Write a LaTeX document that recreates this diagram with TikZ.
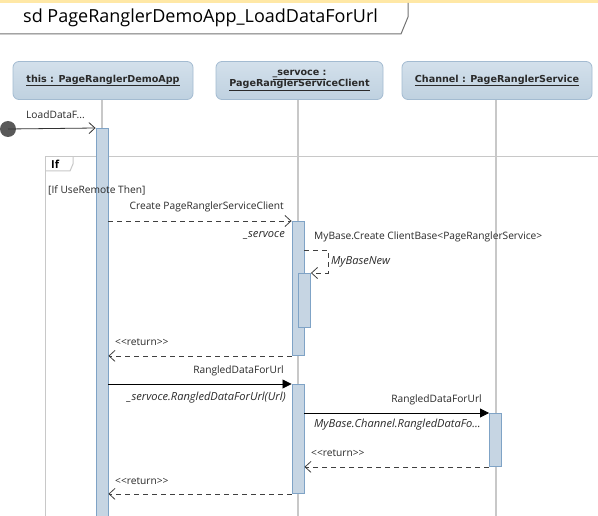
\documentclass[tikz,border=0pt]{standalone}
\usepackage{fontspec}
\setmainfont{Open Sans}
\newfontfamily\headfont{DejaVu Sans}
\usetikzlibrary{arrows.meta,calc}
\definecolor{lifec}{HTML}{C8C8C8}
\definecolor{actfill}{HTML}{C6D5E3}
\definecolor{actdraw}{HTML}{7FA3C6}
\definecolor{headtop}{HTML}{D3E0EB}
\definecolor{headbot}{HTML}{BFD1E0}
\definecolor{headdraw}{HTML}{A3BBD1}
\definecolor{txt}{HTML}{2A2A2A}
\definecolor{strip}{HTML}{FFE8A6}
\tikzset{
  head/.style={draw=headdraw, top color=headtop, bottom color=headbot, rounded corners=6pt, line width=0.8pt, minimum height=38pt, inner sep=0pt, align=center, font=\headfont\fontsize{9.6}{12}\selectfont\bfseries, text=txt},
  act/.style={draw=actdraw, fill=actfill, line width=0.9pt, minimum width=12pt, inner sep=0pt, anchor=north},
  lifeline/.style={draw=lifec, line width=1.3pt},
  msgtxt/.style={font=\fontsize{10.2}{12}\selectfont, text=txt, inner sep=0pt},
  msgit/.style={msgtxt, font=\fontsize{11.1}{12}\selectfont\itshape},
  callmsg/.style={draw=black, line width=0.8pt, -{Triangle[length=9pt,width=9pt]}},
  retmsg/.style={draw=black!75, line width=0.8pt, dash pattern=on 5pt off 4pt, -{Straight Barb[length=6pt,width=11pt]}},
  openmsg/.style={draw=black!80, line width=0.8pt, -{Straight Barb[length=6pt,width=11pt]}},
}
\begin{document}
\begin{tikzpicture}[x=1pt,y=-1pt]
\useasboundingbox (0,0) rectangle (598,516);
\fill[white] (0,0) rectangle (598,516);
% top strip and title
\fill[strip] (0,0) rectangle (598,3);
\draw[draw=black!55, line width=1pt] (0,34) -- (401,34) -- (408,17) -- (408,3);
\node[anchor=west, inner sep=0pt, font=\fontsize{18}{20}\selectfont, text=black] (title) at (23,18) {sd PageRanglerDemoApp\_LoadDataForUrl};
% headers
\node[head, minimum width=180pt] (h1) at (103,80.5) {\underline{this : PageRanglerDemoApp}};
\node[head, minimum width=167pt] (h2) at (299.5,80.5) {\underline{\_servoce :}\\[-1pt]\underline{PageRanglerServiceClient}};
\node[head, minimum width=190pt] (h3) at (497,80.5) {\underline{Channel : PageRanglerService}};
% lifelines
\coordinate (e1) at (102,516);
\coordinate (e2) at (298,516);
\coordinate (e3) at (496,516);
\draw[lifeline] (h1.south -| e1) -- (e1);
\draw[lifeline] (h2.south -| e2) -- (e2);
\draw[lifeline] (h3.south -| e3) -- (e3);
% if frame
\draw[draw=lifec, line width=1pt] (598,157) -- (45,157) -- (45,516);
\draw[draw=lifec, line width=1pt] (45,171) -- (70,171) -- (73,164) -- (73,157);
\node[anchor=west, inner sep=0pt, font=\fontsize{11}{12}\selectfont\bfseries\rmfamily] (iftxt) at (51,164) {If};
% activations
\node[act, minimum height=400pt] (a1) at (102,128) {};
\node[act, minimum height=134pt] (a2) at (298,221) {};
\node[act, minimum height=54pt] (a2b) at (304.5,273) {};
\node[act, minimum height=109pt] (a3) at (298,384) {};
\node[act, minimum height=53pt] (a4) at (495.5,413) {};
\node[msgtxt, anchor=west] (guard) at (48,190) {[If UseRemote Then]};
% start
\node[circle, fill=black!65, minimum size=16pt, inner sep=0pt] (start) at (8,129) {};
\draw[openmsg] (start.center) -- (a1.north west);
\node[msgtxt, anchor=west] (l0) at (26,115) {LoadDataF...};
% create
\draw[retmsg] (a1.east |- a2.north) -- (a2.north west);
\node[msgtxt, anchor=east] (l1) at (284,207) {Create PageRanglerServiceClient};
\node[msgit, anchor=east] (l1b) at (285,235) {\_servoce};
% self call
\coordinate (sc1) at (328,250);
\coordinate (sc2) at (328,273);
\draw[retmsg] (a2.east |- sc1) -- (sc1) -- (sc2) -- (a2b.north east);
\node[msgtxt, anchor=west] (l2) at (314,237) {MyBase.Create ClientBase<PageRanglerService>};
\node[msgit, anchor=west] (l2b) at (331,262) {MyBaseNew};
% return 1
\draw[retmsg] (a2.south west) -- (a1.east |- a2.south);
\node[msgtxt, anchor=west] (r1) at (115,342) {<{}<return>{}>};
% rangled 1
\draw[callmsg] (a1.east |- a3.north) -- (a3.north west);
\node[msgtxt, anchor=east] (l3) at (284,371) {RangledDataForUrl};
\node[msgit, anchor=east] (l3b) at (286,398) {\_servoce.RangledDataForUrl(Url)};
% rangled 2
\draw[callmsg] (a3.east |- a4.north) -- (a4.north west);
\node[msgtxt, anchor=east] (l4) at (482,400) {RangledDataForUrl};
\node[msgit, anchor=east] (l4b) at (481,425) {MyBase.Channel.RangledDataFo...};
% returns
\draw[retmsg] (a4.south west) -- (a3.east |- a4.south);
\node[msgtxt, anchor=west] (r2) at (311,453) {<{}<return>{}>};
\draw[retmsg] (a3.south west) -- (a1.east |- a3.south);
\node[msgtxt, anchor=west] (r3) at (115,481) {<{}<return>{}>};
\end{tikzpicture}
\end{document}
